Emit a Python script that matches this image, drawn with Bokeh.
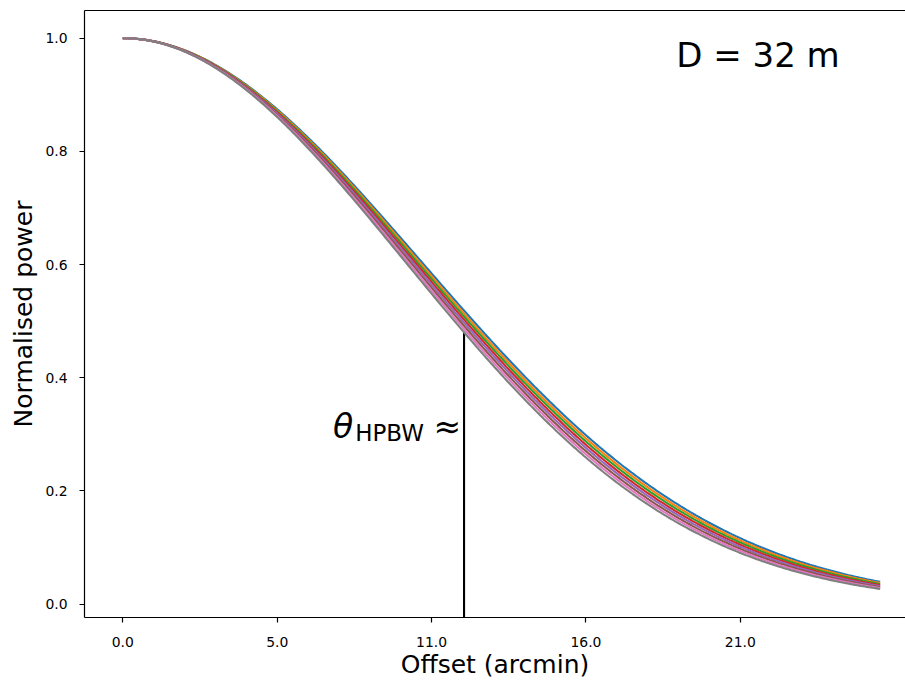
import numpy as np
from bokeh.plotting import figure
from bokeh.models import Range1d, FixedTicker, LinearAxis, Label
from bokeh.embed import file_html
from bokeh.resources import INLINE

# Half-power beam widths (arcmin) of the 32 m dish across the observed band
hpbw = [24.08, 23.89, 23.71, 23.52, 23.34, 23.15, 22.97, 22.78]
colors = ["#1f77b4", "#ff7f0e", "#2ca02c", "#d62728",
          "#9467bd", "#8c564b", "#e377c2", "#7f7f7f"]
dish_text = "D = 32 m"
max_offset = 26.0

x_ticks = [0.0, 5.3, 10.6, 15.9, 21.2]
x_tick_labels = ["0.0", "5.0", "11.0", "16.0", "21.0"]
y_ticks = [0.0, 0.2, 0.4, 0.6, 0.8, 1.0]
y_tick_labels = ["0.0", "0.2", "0.4", "0.6", "0.8", "1.0"]

FONT = "DejaVu Sans"
X_START, X_END = -1.315, 26.87
Y_START, Y_END = -0.0235, 1.0489


def beam(offset, width):
    """Gaussian main-beam response for a given HPBW."""
    return np.exp(-4.0 * np.log(2.0) * (np.asarray(offset) / width) ** 2)


offsets = np.linspace(0.0, max_offset, 400)

p = figure(width=905, height=681, output_backend="svg", toolbar_location=None,
           x_range=Range1d(X_START, X_END), y_range=Range1d(Y_START, Y_END),
           min_border_left=84, min_border_right=0, min_border_top=10,
           min_border_bottom=63, background_fill_color="white",
           border_fill_color="white")
p.outline_line_color = None
p.grid.visible = False

# half-power marker
x_half = float(np.mean(hpbw)) / 2.0
y_top = float(beam(x_half, hpbw[-1]))
p.segment(x0=[x_half], y0=[Y_START], x1=[x_half], y1=[y_top],
          line_color="black", line_width=2.1)

for w, c in zip(hpbw, colors):
    p.line(offsets, beam(offsets, w), line_color=c, line_width=2.1)

# axes
for ax in (p.xaxis[0], p.yaxis[0]):
    ax.axis_line_color = "black"
    ax.axis_line_width = 1.2
    ax.major_tick_line_color = "black"
    ax.major_tick_line_width = 1.2
    ax.major_tick_in = 0
    ax.major_tick_out = 5
    ax.minor_tick_line_color = None
    ax.major_label_text_font = FONT
    ax.major_label_text_font_size = "13.9px"
    ax.major_label_text_color = "black"
    ax.axis_label_text_font = FONT
    ax.axis_label_text_font_size = "25px"
    ax.axis_label_text_font_style = "normal"
    ax.axis_label_text_color = "black"

p.xaxis.ticker = FixedTicker(ticks=x_ticks)
p.xaxis.major_label_overrides = dict(zip(x_ticks, x_tick_labels))
p.xaxis.axis_label = "Offset (arcmin)"
p.xaxis.major_label_standoff = 14
p.xaxis.axis_label_standoff = 0

p.yaxis.ticker = FixedTicker(ticks=y_ticks)
p.yaxis.major_label_overrides = dict(zip(y_ticks, y_tick_labels))
p.yaxis.axis_label = "Normalised power"
p.yaxis.major_label_standoff = 12
p.yaxis.axis_label_standoff = 4

# top spine
top = LinearAxis(ticker=FixedTicker(ticks=[]), axis_line_color="black",
                 axis_line_width=1.2, major_tick_line_color=None,
                 minor_tick_line_color=None, major_label_text_font_size="0px")
p.add_layout(top, "above")

# annotations
p.add_layout(Label(x=19.0, y=0.970, text=dish_text, text_font=FONT,
                   text_font_size="34px", text_color="black",
                   text_baseline="alphabetic", text_align="left"))

p.add_layout(Label(x=x_half, y=0.3148, x_offset=-131, text="\u03b8",
                   text_font=FONT, text_font_style="italic",
                   text_font_size="33px", text_color="black",
                   text_baseline="alphabetic", text_align="left"))
p.add_layout(Label(x=x_half, y=0.3024, x_offset=-40, text="HPBW",
                   text_font=FONT, text_font_size="23px", text_color="black",
                   text_baseline="alphabetic", text_align="right"))
p.add_layout(Label(x=x_half, y=0.3148, x_offset=-3, text="\u2248",
                   text_font=FONT, text_font_size="33px", text_color="black",
                   text_baseline="alphabetic", text_align="right"))

open("out.html", "w").write(file_html(p, INLINE))
